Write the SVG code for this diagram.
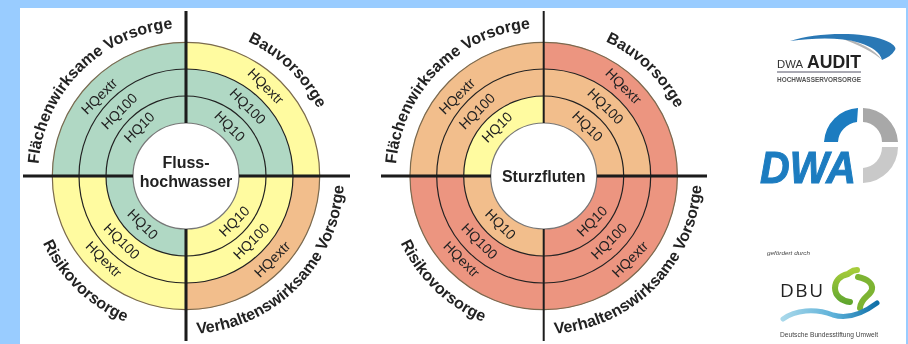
<svg xmlns="http://www.w3.org/2000/svg" width="908" height="344" viewBox="0 0 908 344">
<style>
.g{fill:#b0d8c4}.y{fill:#fffba0}.o{fill:#f2be8c}.r{fill:#ec9580}
.ring{fill:none;stroke:#222;stroke-width:1.2}
.outer{fill:none;stroke:#7a6a50;stroke-width:1.2}
.hub{fill:#fff;stroke:#777;stroke-width:1.2}
.ax{stroke:#1a1a1a;fill:none}
text{font-family:"Liberation Sans",Arial,sans-serif;fill:#222}
.t{font-weight:bold;font-size:16px}
.c{font-weight:bold;font-size:16px;text-anchor:middle}
.h{font-size:14px;text-anchor:middle;dominant-baseline:middle}
.soft{filter:url(#soft)}
</style>
<defs>
<filter id="soft" x="-5%" y="-5%" width="110%" height="110%"><feGaussianBlur stdDeviation="0.35"/></filter>
<path id="top" d="M-148 0A148 148 0 0 1 148 0"/>
<path id="bot" d="M-158 0A158 158 0 0 0 158 0"/>
<path id="ul1" d="M0 0V-134A134 134 0 0 0-134 0Z"/><path id="ul2" d="M0 0V-107A107 107 0 0 0-107 0Z"/><path id="ul3" d="M0 0V-80A80 80 0 0 0-80 0Z"/>
<path id="ur1" d="M0 0V-134A134 134 0 0 1 134 0Z"/><path id="ur2" d="M0 0V-107A107 107 0 0 1 107 0Z"/><path id="ur3" d="M0 0V-80A80 80 0 0 1 80 0Z"/>
<path id="lr1" d="M0 0H134A134 134 0 0 1 0 134Z"/><path id="lr2" d="M0 0H107A107 107 0 0 1 0 107Z"/><path id="lr3" d="M0 0H80A80 80 0 0 1 0 80Z"/>
<path id="ll1" d="M0 0V134A134 134 0 0 1-134 0Z"/><path id="ll2" d="M0 0V107A107 107 0 0 1-107 0Z"/><path id="ll3" d="M0 0V80A80 80 0 0 1-80 0Z"/>
<linearGradient id="wave" gradientUnits="userSpaceOnUse" x1="783" x2="877" y1="0" y2="0"><stop offset="0" stop-color="#a8d8ea"/><stop offset=".55" stop-color="#5cb0d8"/><stop offset="1" stop-color="#0f6fa8"/></linearGradient>
<linearGradient id="tree" gradientUnits="userSpaceOnUse" x1="0" x2="0" y1="270" y2="304"><stop offset="0" stop-color="#a6cc3a"/><stop offset="1" stop-color="#5ea52e"/></linearGradient>
</defs>
<rect width="908" height="344" fill="#99ccff"/>
<rect x="20" y="8" width="886" height="336" fill="#fff"/>

<g id="chart-flusshochwasser" class="soft" transform="translate(186 176)">
<use href="#ul1" class="g"/><use href="#ul2" class="g"/><use href="#ul3" class="g"/>
<use href="#ur1" class="y"/><use href="#ur2" class="g"/><use href="#ur3" class="g"/>
<use href="#ll1" class="y"/><use href="#ll2" class="y"/><use href="#ll3" class="g"/>
<use href="#lr1" class="o"/><use href="#lr2" class="y"/><use href="#lr3" class="y"/>
<circle r="133.7" class="outer"/><circle r="107" class="ring"/><circle r="80" class="ring"/><circle r="53" class="hub"/>
<text class="t"><textPath href="#top" startOffset="12">Flächenwirksame Vorsorge</textPath></text>
<text class="t"><textPath href="#top" startOffset="296">Bauvorsorge</textPath></text>
<text class="t"><textPath href="#bot" startOffset="69">Risikovorsorge</textPath></text>
<text class="t"><textPath href="#bot" startOffset="259">Verhaltenswirksame Vorsorge</textPath></text>
<text class="c" y="-8">Fluss-</text><text class="c" y="11">hochwasser</text>
<text class="h" transform="translate(-86 -79) rotate(-45)">HQextr</text><text class="h" transform="translate(-66 -64) rotate(-45)">HQ100</text><text class="h" transform="translate(-46 -48) rotate(-45)">HQ10</text>
<text class="h" transform="translate(79 -89) rotate(45)">HQextr</text><text class="h" transform="translate(61 -69) rotate(45)">HQ100</text><text class="h" transform="translate(43 -49) rotate(45)">HQ10</text>
<text class="h" transform="translate(-44 49) rotate(45)">HQ10</text><text class="h" transform="translate(-65 66) rotate(45)">HQ100</text><text class="h" transform="translate(-83 84) rotate(45)">HQextr</text>
<text class="h" transform="translate(49 46) rotate(-45)">HQ10</text><text class="h" transform="translate(66 66) rotate(-45)">HQ100</text><text class="h" transform="translate(87 84) rotate(-45)">HQextr</text>
</g>

<g id="chart-sturzfluten" class="soft" transform="translate(543.7 176)">
<use href="#ul1" class="o"/><use href="#ul2" class="o"/><use href="#ul3" class="y"/>
<use href="#ur1" class="r"/><use href="#ur2" class="o"/><use href="#ur3" class="o"/>
<use href="#ll1" class="r"/><use href="#ll2" class="r"/><use href="#ll3" class="o"/>
<use href="#lr1" class="r"/><use href="#lr2" class="r"/><use href="#lr3" class="r"/>
<circle r="133.7" class="outer"/><circle r="107" class="ring"/><circle r="80" class="ring"/><circle r="53" class="hub"/>
<text class="t"><textPath href="#top" startOffset="12">Flächenwirksame Vorsorge</textPath></text>
<text class="t"><textPath href="#top" startOffset="296">Bauvorsorge</textPath></text>
<text class="t"><textPath href="#bot" startOffset="69">Risikovorsorge</textPath></text>
<text class="t"><textPath href="#bot" startOffset="259">Verhaltenswirksame Vorsorge</textPath></text>
<text class="c" y="6">Sturzfluten</text>
<text class="h" transform="translate(-86 -79) rotate(-45)">HQextr</text><text class="h" transform="translate(-66 -64) rotate(-45)">HQ100</text><text class="h" transform="translate(-46 -48) rotate(-45)">HQ10</text>
<text class="h" transform="translate(79 -89) rotate(45)">HQextr</text><text class="h" transform="translate(61 -69) rotate(45)">HQ100</text><text class="h" transform="translate(43 -49) rotate(45)">HQ10</text>
<text class="h" transform="translate(-44 49) rotate(45)">HQ10</text><text class="h" transform="translate(-65 66) rotate(45)">HQ100</text><text class="h" transform="translate(-83 84) rotate(45)">HQextr</text>
<text class="h" transform="translate(49 46) rotate(-45)">HQ10</text><text class="h" transform="translate(66 66) rotate(-45)">HQ100</text><text class="h" transform="translate(87 84) rotate(-45)">HQextr</text>
</g>

<g id="connectors" class="soft">
<path class="ax" stroke-width="3" d="M186 11V123M186 229V341M23 176H133M239 176H350"/>
<path class="ax" stroke-width="2" d="M543.7 11V123M543.7 229V341"/>
<path class="ax" stroke-width="3" d="M381 176H491M597 176H707"/>
</g>

<g id="logo-dwa-audit" class="soft">
<path d="M840 38C860 41 875 50 882 60C874 53 860 45 840 38Z" fill="#b5b5b5"/>
<path d="M790 41C815 33 860 31 884 40C892 43 897 47 895 50C892 55 887 58 882 60C880 52 872 47 860 43C840 37 815 38 790 41Z" fill="#2a78b5"/>
<text x="777" y="68" font-size="11" textLength="26" lengthAdjust="spacingAndGlyphs" style="fill:#333">DWA</text>
<text x="807" y="68" font-size="19" font-weight="bold" textLength="54" lengthAdjust="spacingAndGlyphs" style="fill:#222">AUDIT</text>
<path d="M777 72H861" stroke="#556" stroke-width="1"/>
<text x="777" y="82" font-size="6.5" font-weight="bold" textLength="84" lengthAdjust="spacingAndGlyphs" style="fill:#555">HOCHWASSERVORSORGE</text>
</g>

<g id="logo-dwa" class="soft">
<path d="M858 108A36 36 0 0 0 824 142H838A22 21 0 0 1 857 122Z" fill="#1b7cc0"/>
<path d="M863 108A36 36 0 0 1 898 142H882A20 20 0 0 0 863 122Z" fill="#a8a8a8"/>
<path d="M898 147A36 36 0 0 1 863 183V168A20 21 0 0 0 882 147Z" fill="#c9c9c9"/>
<text x="760" y="183" font-size="44" font-weight="bold" font-style="italic" textLength="96" lengthAdjust="spacingAndGlyphs" style="fill:#1b7cc0;stroke:#1b7cc0;stroke-width:1">DWA</text>
</g>

<g id="logo-dbu" class="soft">
<text x="767" y="255" font-size="6" font-style="italic" textLength="43" lengthAdjust="spacingAndGlyphs" style="fill:#444">gefördert durch</text>
<text x="780" y="297" font-size="19" textLength="43" style="fill:#222;font-family:'Open Sans',sans-serif">DBU</text>
<path d="M857 270C852 270 851 272 848 274C839 276 835 282 835 288C835 296 842 301 850 302" fill="none" stroke="url(#tree)" stroke-width="6" stroke-linecap="round"/>
<path d="M858 277C868 279 873 284 872 289C871 296 861 297 860 308" fill="none" stroke="#7db433" stroke-width="6" stroke-linecap="round"/>
<path d="M783 319C795 310 815 308 833 315C850 320 865 312 877 303" fill="none" stroke="url(#wave)" stroke-width="5" stroke-linecap="round"/>
<text x="780" y="337" font-size="6.5" textLength="98" lengthAdjust="spacingAndGlyphs" style="fill:#444">Deutsche Bundesstiftung Umwelt</text>
</g>
</svg>
